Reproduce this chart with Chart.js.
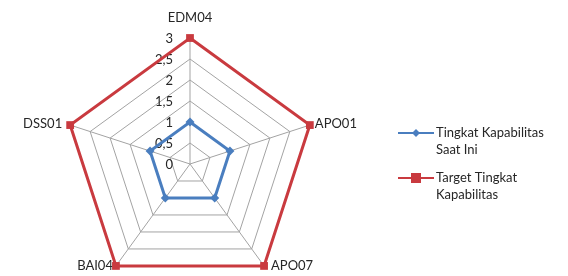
<!DOCTYPE html>
<html>
<head>
<meta charset="utf-8">
<script src="https://cdn.jsdelivr.net/npm/chart.js@4.4.1/dist/chart.umd.min.js"></script>
<style>
  html, body { margin: 0; padding: 0; background: #fff; }
  #wrap { width: 568px; height: 276px; position: relative; }
</style>
</head>
<body>
<div id="wrap"><canvas id="radar"></canvas></div>
<script>
// data
var categories = ['EDM04', 'APO01', 'APO07', 'BAI04', 'DSS01'];
var currentLevel = [1, 1, 1, 1, 1];
var targetLevel = [3, 3, 3, 3, 3];
var tickLabels = ['0', '0,5', '1', '1,5', '2', '2,5', '3'];
var legendLines = [['Tingkat Kapabilitas', 'Saat Ini'], ['Target Tingkat', 'Kapabilitas']];

var FONT = '13px Lato, sans-serif';
var TXT = '#262626';

// point label offsets (dx, dy, align) per axis
var labelPos = [
    [0, -20, 'center'],
    [5, -1, 'left'],
    [7, 0, 'left'],
    [-3, 0, 'right'],
    [-8, -1, 'right']
];

var textPlugin = {
    id: 'excelText',
    beforeDatasetsDraw: function(chart) {
        var s = chart.scales.r, ctx = chart.ctx;
        ctx.save();
        ctx.font = FONT;
        ctx.fillStyle = TXT;
        ctx.textBaseline = 'middle';
        // category labels
        for (var i = 0; i < categories.length; i++) {
            var p = s.getPointPosition(i, s.drawingArea);
            ctx.textAlign = labelPos[i][2];
            ctx.fillText(categories[i], p.x + labelPos[i][0], p.y + labelPos[i][1]);
        }
        // tick labels, left of the vertical axis
        ctx.textAlign = 'right';
        s.ticks.forEach(function(t, k) {
            var d = s.getDistanceFromCenterForValue(t.value);
            ctx.fillText(tickLabels[k], s.xCenter - 17, s.yCenter - d + 1);
        });
        ctx.restore();
    },
    afterDraw: function(chart) {
        var ctx = chart.ctx;
        ctx.save();
        ctx.font = FONT;
        ctx.textBaseline = 'middle';
        ctx.textAlign = 'left';
        var y0 = [133, 178];
        chart.data.datasets.forEach(function(ds, i) {
            var y = y0[i];
            ctx.strokeStyle = ds.borderColor;
            ctx.lineWidth = 2;
            ctx.beginPath();
            ctx.moveTo(398, y);
            ctx.lineTo(434, y);
            ctx.stroke();
            ctx.fillStyle = ds.backgroundColor;
            if (i === 0) {
                ctx.beginPath();
                ctx.moveTo(416, y - 4);
                ctx.lineTo(420, y);
                ctx.lineTo(416, y + 4);
                ctx.lineTo(412, y);
                ctx.closePath();
                ctx.fill();
            } else {
                ctx.fillRect(411, y - 5, 10, 10);
            }
            ctx.fillStyle = TXT;
            legendLines[i].forEach(function(line, j) {
                ctx.fillText(line, 436, y + j * 17);
            });
        });
        ctx.restore();
    }
};

new Chart(document.getElementById('radar'), {
    type: 'radar',
    data: {
        labels: categories,
        datasets: [
            {
                label: 'Tingkat Kapabilitas Saat Ini',
                data: currentLevel,
                borderColor: '#4a7ebf',
                backgroundColor: '#4a7ebf',
                borderWidth: 3,
                fill: false,
                pointStyle: 'rectRot',
                pointRadius: 4.5,
                pointBorderWidth: 0
            },
            {
                label: 'Target Tingkat Kapabilitas',
                data: targetLevel,
                borderColor: '#c93a3f',
                backgroundColor: '#c93a3f',
                borderWidth: 3,
                fill: false,
                pointStyle: 'rect',
                pointRadius: 5.5,
                pointBorderWidth: 0
            }
        ]
    },
    options: {
        responsive: true,
        maintainAspectRatio: false,
        animation: false,
        layout: { padding: 0 },
        plugins: {
            legend: { display: false },
            tooltip: { enabled: false }
        },
        elements: { line: { tension: 0 } },
        scales: {
            r: {
                min: 0,
                max: 3,
                ticks: { stepSize: 0.5, display: false },
                grid: { color: '#a3a3a3', lineWidth: 1 },
                angleLines: { color: '#a3a3a3', lineWidth: 1 },
                pointLabels: { display: false },
                afterFit: function(s) {
                    s.xCenter = 190;
                    s.yCenter = 164;
                    s.drawingArea = 126;
                }
            }
        }
    },
    plugins: [textPlugin]
});
</script>
</body>
</html>
